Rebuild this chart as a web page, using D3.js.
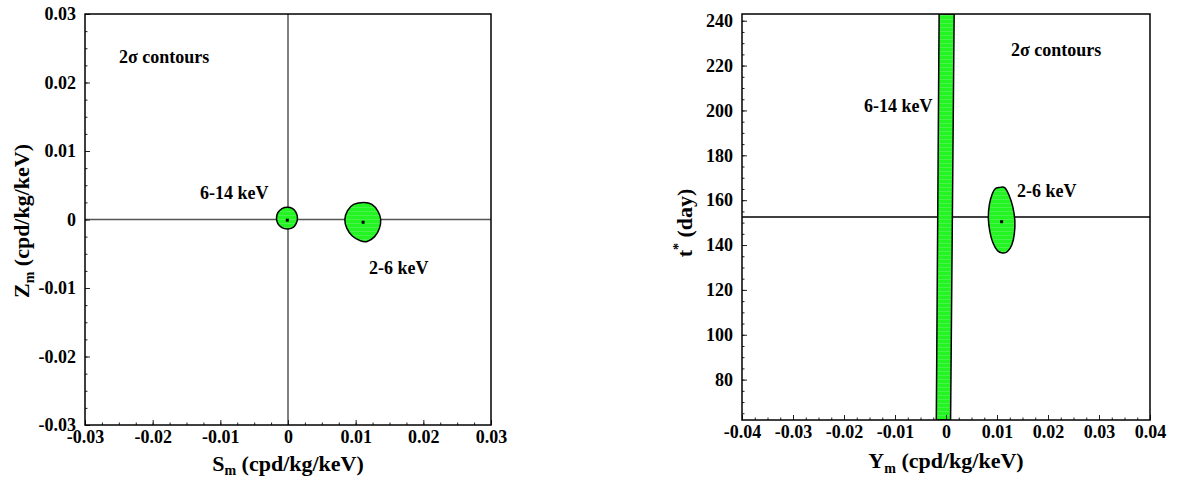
<!DOCTYPE html>
<html>
<head>
<meta charset="utf-8">
<script src="https://cdn.jsdelivr.net/npm/d3@7"></script>
<style>
  body { margin: 0; background: #fff; }
  text { font-family: 'Liberation Serif', 'Times New Roman', serif; font-weight: bold; fill: #000; }
</style>
</head>
<body>
<div id="chart-area"></div>
<script>
// ---- data ----
// left panel: Sm vs Zm
const smTicks = [-0.03, -0.02, -0.01, 0, 0.01, 0.02, 0.03]
const zmTicks = [-0.03, -0.02, -0.01, 0, 0.01, 0.02, 0.03]
const contourSZ_6_14 = [
  [-0.0001, 0.0018], [0.0007, 0.0016], [0.0012, 0.0010], [0.0014, 0.0002],
  [0.0012, -0.0006], [0.0007, -0.0012], [-0.0001, -0.0014], [-0.0009, -0.0012],
  [-0.0015, -0.0006], [-0.0017, 0.0002], [-0.0015, 0.0010], [-0.0009, 0.0016]
]
const contourSZ_2_6 = [
  [0.0112, 0.0025], [0.0124, 0.0022], [0.0133, 0.0012], [0.0137, 0.0000],
  [0.0135, -0.0013], [0.0128, -0.0025], [0.0117, -0.0032], [0.0107, -0.0031],
  [0.0095, -0.0024], [0.0087, -0.0013], [0.0084, 0.0000], [0.0088, 0.0013],
  [0.0097, 0.0022]
]
const bestSZ = [[-0.0001, -0.0001], [0.0111, -0.0004]]

// right panel: Ym vs t*
const ymTicks = [-0.04, -0.03, -0.02, -0.01, 0, 0.01, 0.02, 0.03, 0.04]
const tTicks = [80, 100, 120, 140, 160, 180, 200, 220, 240]
const tPhase = 152.5
const bandYT_6_14 = [[-0.00135, 243], [0.0016, 243], [0.0009, 62], [-0.0019, 62]]
const contourYT_2_6 = [
  [0.0103, 165.6], [0.0115, 165.6], [0.0124, 162], [0.0131, 157], [0.0135, 151],
  [0.0134, 145], [0.0129, 140], [0.0120, 137], [0.0111, 136.5], [0.0101, 137.5],
  [0.0092, 141], [0.0086, 146], [0.0083, 152], [0.0085, 158], [0.0091, 163],
  [0.0097, 165.2]
]
const bestYT = [[0.0109, 150.4]]

const fmt = d => Math.abs(d) < 1e-9 ? '0' : d.toFixed(2)

const svg = d3.select('#chart-area')
  .append('svg')
    .attr('width', 1177)
    .attr('height', 479)

// striped green fill
const defs = svg.append('defs')
const pat = defs.append('pattern')
  .attr('id', 'stripes')
  .attr('patternUnits', 'userSpaceOnUse')
  .attr('width', 8).attr('height', 4)
pat.append('rect').attr('width', 8).attr('height', 4).attr('fill', '#22f522')
pat.append('rect').attr('y', 3).attr('width', 8).attr('height', 1).attr('fill', '#4cf04c')

function panel(opts) {
  const {x0, x1, y0, y1, xDomain, yDomain, xTicks, yTicks, xMinor, yMinor, yFmt, id} = opts
  const x = d3.scaleLinear().domain(xDomain).range([x0, x1])
  const y = d3.scaleLinear().domain(yDomain).range([y1, y0])

  defs.append('clipPath').attr('id', id)
    .append('rect').attr('x', x0).attr('y', y0).attr('width', x1 - x0).attr('height', y1 - y0)

  const plot = svg.append('g').attr('clip-path', `url(#${id})`)

  // minor ticks
  svg.append('g')
    .attr('transform', `translate(0,${y1})`)
    .call(d3.axisBottom(x).tickValues(xMinor).tickSize(-2.5).tickFormat(''))
    .call(g => g.select('.domain').remove())
  svg.append('g')
    .attr('transform', `translate(${x0},0)`)
    .call(d3.axisLeft(y).tickValues(yMinor).tickSize(-2.5).tickFormat(''))
    .call(g => g.select('.domain').remove())

  // major ticks with labels
  svg.append('g')
    .attr('transform', `translate(0,${y1})`)
    .call(d3.axisBottom(x).tickValues(xTicks).tickSize(-5).tickPadding(5).tickFormat(fmt))
    .call(g => g.select('.domain').remove())
    .call(g => g.selectAll('text').attr('font-size', 18).attr('font-weight', 'bold'))
  svg.append('g')
    .attr('transform', `translate(${x0},0)`)
    .call(d3.axisLeft(y).tickValues(yTicks).tickSize(-5).tickPadding(9).tickFormat(yFmt))
    .call(g => g.select('.domain').remove())
    .call(g => g.selectAll('text').attr('font-size', 18).attr('font-weight', 'bold'))

  svg.selectAll('.tick line').attr('stroke', '#222')

  return {x, y, plot}
}

function drawShape(p, pts, curve) {
  const line = d3.line().x(d => p.x(d[0])).y(d => p.y(d[1])).curve(curve)
  p.plot.append('path')
    .attr('d', line(pts))
    .attr('fill', 'url(#stripes)')
    .attr('stroke', '#000')
    .attr('stroke-width', 1.5)
}

function drawBest(p, pts) {
  p.plot.selectAll(null)
    .data(pts)
    .enter().append('rect')
      .attr('x', d => p.x(d[0]) - 1.5)
      .attr('y', d => p.y(d[1]) - 1.5)
      .attr('width', 3)
      .attr('height', 3)
      .attr('fill', '#000')
}

function frame(x0, x1, y0, y1) {
  svg.append('rect')
    .attr('x', x0).attr('y', y0)
    .attr('width', x1 - x0).attr('height', y1 - y0)
    .attr('fill', 'none').attr('stroke', '#000').attr('stroke-width', 1.5)
}

function label(x, y, txt, size) {
  svg.append('text').attr('x', x).attr('y', y).attr('font-size', size).text(txt)
}

// ---------------- left panel ----------------
const L = panel({
  id: 'clipL', x0: 85, x1: 491, y0: 14, y1: 425,
  xDomain: [-0.03, 0.03], yDomain: [-0.03, 0.03],
  xTicks: smTicks, yTicks: zmTicks,
  xMinor: d3.range(-12, 13).map(i => i * 0.0025),
  yMinor: d3.range(-12, 13).map(i => i * 0.0025),
  yFmt: fmt
})

L.plot.append('line')
  .attr('x1', L.x(0)).attr('x2', L.x(0)).attr('y1', 14).attr('y2', 425)
  .attr('stroke', '#555').attr('stroke-width', 1.5)
L.plot.append('line')
  .attr('x1', 85).attr('x2', 491).attr('y1', L.y(0)).attr('y2', L.y(0))
  .attr('stroke', '#555').attr('stroke-width', 1.5)

drawShape(L, contourSZ_6_14, d3.curveCardinalClosed)
drawShape(L, contourSZ_2_6, d3.curveCardinalClosed)
drawBest(L, bestSZ)
frame(85, 491, 14, 425)

label(119, 63, '2σ contours', 18)
label(200, 199, '6-14 keV', 18)
label(369, 274, '2-6 keV', 18)

const xtL = svg.append('text')
  .attr('x', 288).attr('y', 471).attr('font-size', 22).attr('text-anchor', 'middle')
xtL.append('tspan').text('S')
xtL.append('tspan').attr('font-size', 14).attr('dy', 4).text('m')
xtL.append('tspan').attr('dy', -4).text(' (cpd/kg/keV)')

const ytL = svg.append('text')
  .attr('transform', 'translate(29,221) rotate(-90)')
  .attr('font-size', 22).attr('text-anchor', 'middle')
ytL.append('tspan').text('Z')
ytL.append('tspan').attr('font-size', 14).attr('dy', 5).text('m')
ytL.append('tspan').attr('dy', -5).text(' (cpd/kg/keV)')

// ---------------- right panel ----------------
const R = panel({
  id: 'clipR', x0: 742, x1: 1150, y0: 14, y1: 420,
  xDomain: [-0.04, 0.04], yDomain: [62, 243],
  xTicks: ymTicks, yTicks: tTicks,
  xMinor: d3.range(-16, 17).map(i => i * 0.0025),
  yMinor: d3.range(13, 49).map(i => i * 5),
  yFmt: d => d
})

R.plot.append('line')
  .attr('x1', 742).attr('x2', 1150).attr('y1', R.y(tPhase)).attr('y2', R.y(tPhase))
  .attr('stroke', '#000').attr('stroke-width', 1.3)

drawShape(R, bandYT_6_14, d3.curveLinearClosed)
drawShape(R, contourYT_2_6, d3.curveCardinalClosed)
drawBest(R, bestYT)
frame(742, 1150, 14, 420)

label(1011, 56, '2σ contours', 18)
label(864, 112, '6-14 keV', 18)
label(1017, 197, '2-6 keV', 18)

const xtR = svg.append('text')
  .attr('x', 946).attr('y', 468).attr('font-size', 22).attr('text-anchor', 'middle')
xtR.append('tspan').text('Y')
xtR.append('tspan').attr('font-size', 14).attr('dy', 5).text('m')
xtR.append('tspan').attr('dy', -5).text(' (cpd/kg/keV)')

const ytR = svg.append('text')
  .attr('transform', 'translate(692,223) rotate(-90)')
  .attr('font-size', 22).attr('text-anchor', 'middle')
ytR.append('tspan').text('t')
ytR.append('tspan').attr('font-size', 14).attr('dy', -9).text('*')
ytR.append('tspan').attr('dy', 9).text(' (day)')
</script>
</body>
</html>
